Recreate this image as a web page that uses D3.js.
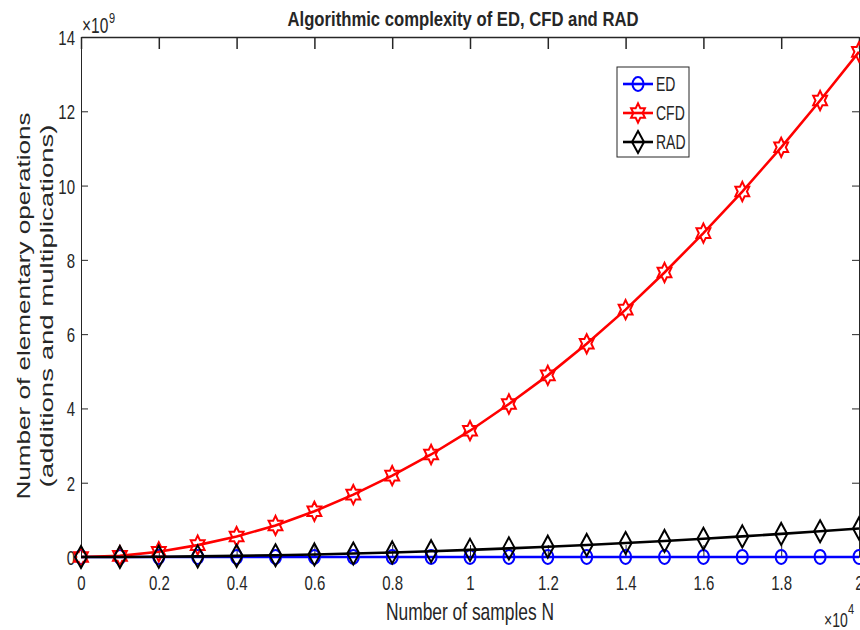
<!DOCTYPE html>
<html>
<head>
<meta charset="utf-8">
<script src="https://cdn.jsdelivr.net/npm/d3@7"></script>
<style>
  body { margin: 0; background: #fff; }
  text { font-family: "Liberation Sans", Arial, Helvetica, sans-serif; fill: #262626; }
</style>
</head>
<body>
<script>
// sample sizes N and operation counts (in units of 1e9)
var samples = [0, 1000, 2000, 3000, 4000, 5000, 6000, 7000, 8000, 9000, 10000,
               11000, 12000, 13000, 14000, 15000, 16000, 17000, 18000, 19000, 20000];
var edOps  = [0, 0.0001, 0.0002, 0.0003, 0.0004, 0.0005, 0.0006, 0.0007, 0.0008, 0.0009, 0.001,
              0.0011, 0.0012, 0.0013, 0.0014, 0.0015, 0.0016, 0.0017, 0.0018, 0.0019, 0.002];
var cfdOps = [0, 0.03, 0.14, 0.32, 0.55, 0.85, 1.23, 1.68, 2.19, 2.76, 3.40,
              4.12, 4.89, 5.74, 6.66, 7.66, 8.72, 9.84, 11.03, 12.29, 13.60];
var radOps = [0, 0.002, 0.008, 0.017, 0.031, 0.048, 0.069, 0.094, 0.123, 0.156, 0.192,
              0.232, 0.277, 0.325, 0.377, 0.432, 0.492, 0.555, 0.622, 0.694, 0.769];
var xTicks = [0, 2000, 4000, 6000, 8000, 10000, 12000, 14000, 16000, 18000, 20000];
var yTicks = [0, 2, 4, 6, 8, 10, 12, 14];
var seriesNames = ["ED", "CFD", "RAD"];

var width = 860
  , height = 630
  , axLeft = 81
  , axRight = 859
  , axTop = 37
  , axBottom = 557
  , stretch = 1.4          // text is drawn tall and narrow
  , axisColor = "#262626"
  ;

var x = d3.scaleLinear().domain([0, 20000]).range([axLeft, axRight]);
var y = d3.scaleLinear().domain([0, 14]).range([axBottom, axTop]);

var svg = d3.select("body").append("svg").attr("width", width).attr("height", height);

function label (px, py, str, size, anchor, weight) {
    return svg.append("text")
        .attr("transform", "translate(" + px + "," + py + ") scale(1," + stretch + ")")
        .attr("text-anchor", anchor || "start")
        .attr("font-size", size)
        .attr("font-weight", weight || "normal")
        .text(str);
}

// markers
function circle (cx, cy) {
    var rx = 5.5, ry = 7;
    return "M" + (cx - rx) + "," + cy + "a" + rx + "," + ry + " 0 1,0 " + (2 * rx) + ",0"
         + "a" + rx + "," + ry + " 0 1,0 " + (-2 * rx) + ",0Z";
}
function hexagram (cx, cy) {
    var R = 8, r = R / Math.sqrt(3), pts = [];
    for (var i = 0; i < 12; i++) {
        var a = Math.PI / 2 + i * Math.PI / 6
          , rr = i % 2 ? r : R
          ;
        pts.push([cx + rr * Math.cos(a), cy - rr * Math.sin(a) * 1.2]);
    }
    return "M" + pts.join("L") + "Z";
}
function diamond (cx, cy) {
    var w = 6, h = 11;
    return "M" + cx + "," + (cy - h) + "L" + (cx + w) + "," + cy + "L" + cx + "," + (cy + h)
         + "L" + (cx - w) + "," + cy + "Z";
}

var series = [
    { name: seriesNames[0], values: edOps,  color: "#0000ff", marker: circle },
    { name: seriesNames[1], values: cfdOps, color: "#ff0000", marker: hexagram },
    { name: seriesNames[2], values: radOps, color: "#000000", marker: diamond }
];

// axes box with inward ticks
svg.append("g")
    .attr("transform", "translate(0," + axBottom + ")")
    .call(d3.axisBottom(x).tickValues(xTicks).tickSize(-12).tickSizeOuter(0).tickFormat(function (d) { return d / 10000; }))
    .call(function (g) {
        g.select(".domain").attr("stroke", axisColor);
        g.selectAll("line").attr("stroke", axisColor);
        g.selectAll("text")
            .attr("y", 0).attr("dy", 0)
            .attr("transform", "translate(0,33) scale(1," + stretch + ")")
            .attr("font-size", 15).attr("font-family", null).attr("fill", axisColor);
    });
svg.append("g")
    .attr("transform", "translate(0," + axTop + ")")
    .call(d3.axisTop(x).tickValues(xTicks).tickSize(-12).tickSizeOuter(0).tickFormat(""))
    .call(function (g) { g.selectAll("path,line").attr("stroke", axisColor).attr("stroke-width", 1.5); });
svg.append("g")
    .attr("transform", "translate(" + axLeft + ",0)")
    .call(d3.axisLeft(y).tickValues(yTicks).tickSize(-7).tickSizeOuter(0))
    .call(function (g) {
        g.selectAll("path,line").attr("stroke", axisColor);
        g.selectAll("text")
            .attr("x", 0).attr("dy", 0)
            .attr("transform", "translate(-6,7.5) scale(1," + stretch + ")")
            .attr("font-size", 15).attr("font-family", null).attr("fill", axisColor);
    });
svg.append("g")
    .attr("transform", "translate(" + axRight + ",0)")
    .call(d3.axisRight(y).tickValues(yTicks).tickSize(-7).tickSizeOuter(0).tickFormat(""))
    .call(function (g) { g.selectAll("path,line").attr("stroke", axisColor); });

// series lines, then markers
var line = d3.line()
    .x(function (d, i) { return x(samples[i]); })
    .y(function (d) { return y(d); });

series.forEach(function (s) {
    var g = svg.append("g");
    g.append("path")
        .attr("d", line(s.values))
        .attr("fill", "none")
        .attr("stroke", s.color)
        .attr("stroke-width", 2.6);
    g.selectAll("path.mark")
        .data(s.values)
        .enter().append("path")
        .attr("class", "mark")
        .attr("d", function (d, i) { return s.marker(x(samples[i]), y(d)); })
        .attr("fill", "none")
        .attr("stroke", s.color)
        .attr("stroke-width", 2);
});

// exponent labels
label(82, 33, "\u00d710", 15.5);
label(109, 23, "9", 11);
label(824, 627, "\u00d710", 14);
label(848, 614, "4", 11);

// title and axis labels
label(463, 26, "Algorithmic complexity of ED, CFD and RAD", 15, "middle", "bold")
    .attr("textLength", 351).attr("lengthAdjust", "spacingAndGlyphs");
label(470, 620, "Number of samples N", 17, "middle")
    .attr("textLength", 168).attr("lengthAdjust", "spacingAndGlyphs");

svg.append("text")
    .attr("transform", "translate(30,306) rotate(-90)")
    .attr("text-anchor", "middle")
    .attr("font-size", 18.5)
    .attr("textLength", 387).attr("lengthAdjust", "spacingAndGlyphs")
    .text("Number of elementary operations");
svg.append("text")
    .attr("transform", "translate(53,306) rotate(-90)")
    .attr("text-anchor", "middle")
    .attr("font-size", 18.5)
    .attr("textLength", 363).attr("lengthAdjust", "spacingAndGlyphs")
    .text("(additions and multiplications)");

// legend
var legend = svg.append("g");
legend.append("rect")
    .attr("x", 617).attr("y", 67).attr("width", 72).attr("height", 90)
    .attr("fill", "#fff").attr("stroke", axisColor).attr("stroke-width", 1);
series.forEach(function (s, i) {
    var ly = 84 + i * 29;
    legend.append("line")
        .attr("x1", 623).attr("x2", 653).attr("y1", ly).attr("y2", ly)
        .attr("stroke", s.color).attr("stroke-width", 2.6);
    legend.append("path")
        .attr("d", s.marker(638, ly))
        .attr("fill", "none").attr("stroke", s.color).attr("stroke-width", 2);
    label(656, ly + 7, s.name, 14);
});
</script>
</body>
</html>
